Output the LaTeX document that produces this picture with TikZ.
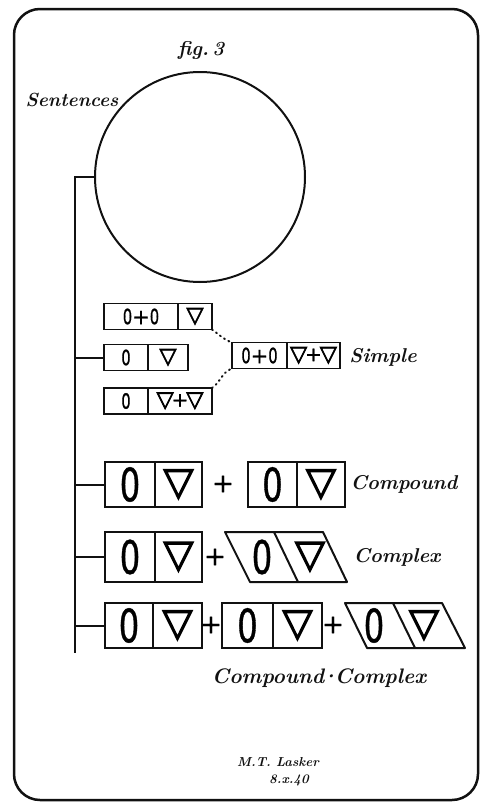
\documentclass[tikz,border=0pt]{standalone}
\usepackage{fontspec}
\usepackage{tikz}
\usetikzlibrary{positioning}
\newfontfamily\symfont{DejaVu Sans}[FakeBold=1]
\newfontfamily\trifont{DejaVu Sans}[FakeBold=3]
\definecolor{ink}{HTML}{111111}
\newcommand{\nought}{\scalebox{0.7}[1]{0}}
\tikzset{
 cell/.style={draw=ink,line width=1.8pt,inner sep=0pt,outer sep=0pt,minimum height=26pt,font=\symfont\fontsize{21}{21}\selectfont},
 smalltri/.style={font=\trifont\fontsize{22}{22}\selectfont},
 bigcell/.style={draw=ink,line width=2pt,inner sep=0pt,outer sep=0pt,minimum height=45pt,font=\symfont\fontsize{46}{46}\selectfont},
 bigo/.style={font=\symfont\fontsize{46}{46}\selectfont},
 tri/.style={font=\trifont\fontsize{39}{39}\selectfont},
 plus/.style={font=\symfont\fontsize{26}{26}\selectfont},
 hand/.style={font=\bfseries\itshape\fontsize{20}{20}\selectfont,text=ink},
 slant/.style={draw=ink,line width=2pt,line join=round},
 link/.style={ink,line width=2pt,line cap=round,dash pattern=on 1pt off 4pt},
}
\begin{document}
\begin{tikzpicture}[x=1pt,y=-1pt]
\useasboundingbox (0,0) rectangle (480,803);
% frame and heading
\draw[ink,line width=2.5pt,rounded corners=26pt] (14,9) rectangle (478,800);
\node[hand] (fig) at (201,50) {fig.\,3};
\node[hand,font=\bfseries\itshape\fontsize{19}{19}\selectfont] (sent) at (72,100) {Sentences};
\node[draw=ink,line width=2pt,circle,minimum size=210pt,inner sep=0pt] (whole) at (200,177) {};
\coordinate (foot) at (75,653);
\draw[ink,line width=2pt] (whole.west) -| (foot);
% simple
\node[cell,minimum width=74pt,anchor=west] (s1o) at (104,316.5) {\nought+\nought};
\node[cell,smalltri,minimum width=34pt,right=0pt of s1o] (s1v) {▽};
\node[cell,minimum width=44pt,anchor=west] (s2o) at (104,357.5) {\nought};
\node[cell,smalltri,minimum width=40pt,right=0pt of s2o] (s2v) {▽};
\node[cell,minimum width=44pt,anchor=west] (s3o) at (104,401) {\nought};
\node[cell,smalltri,minimum width=64pt,right=0pt of s3o] (s3v) {▽\kern-2pt{\symfont\fontsize{20}{20}\selectfont+}\kern-2pt▽};
\node[cell,minimum width=55pt,anchor=west] (sro) at (232,355.5) {\nought+\nought};
\node[cell,smalltri,minimum width=53pt,right=0pt of sro] (srv) {▽\kern-2pt{\symfont\fontsize{20}{20}\selectfont+}\kern-2pt▽};
\node[hand] (sname) at (383,357) {Simple};
\draw[ink,line width=2pt] (s2o.west) -- (s2o.west -| foot);
\draw[link] (s1v.south east) to[out=-35,in=160] (sro.north west);
\draw[link] (s3v.north east) to[out=35,in=-160] (sro.south west);
% compound
\node[bigcell,minimum width=50pt,anchor=west] (co1) at (105,484.5) {\nought};
\node[bigcell,tri,minimum width=47pt,right=0pt of co1] (cv1) {▽};
\node[plus] (cp) at (223,484) {+};
\node[bigcell,minimum width=49pt,anchor=west] (co2) at (248,484.5) {\nought};
\node[bigcell,tri,minimum width=48pt,right=0pt of co2] (cv2) {▽};
\node[hand] (cname) at (404,484) {Compound};
\draw[ink,line width=2pt] (co1.west) -- (co1.west -| foot);
% complex
\node[bigcell,minimum width=50pt,minimum height=50pt,anchor=west] (xo1) at (105,557) {\nought};
\node[bigcell,tri,minimum width=47pt,minimum height=50pt,right=0pt of xo1] (xv1) {▽};
\node[plus] (xp) at (215,557) {+};
\draw[slant] (225,532) -- (323,532) -- (347,582) -- (250,582) -- cycle;
\draw[slant] (274,532) -- (298,582);
\node[bigo] (xo2) at (262,557) {\nought};
\node[tri] (xv2) at (310,557) {▽};
\node[hand] (xname) at (397,557) {Complex};
\draw[ink,line width=2pt] (xo1.west) -- (xo1.west -| foot);
% compound-complex
\node[bigcell,minimum width=48pt,anchor=west] (ko1) at (105,625.5) {\nought};
\node[bigcell,tri,minimum width=49pt,right=0pt of ko1] (kv1) {▽};
\node[plus] (kp1) at (211,625) {+};
\node[bigcell,minimum width=51pt,anchor=west] (ko2) at (222,625.5) {\nought};
\node[bigcell,tri,minimum width=49pt,right=0pt of ko2] (kv2) {▽};
\node[plus] (kp2) at (333,625) {+};
\draw[slant] (345,603) -- (442,603) -- (465,648) -- (367,648) -- cycle;
\draw[slant] (393,603) -- (415,648);
\node[bigo] (ko3) at (374,625.5) {\nought};
\node[tri] (kv3) at (424,625.5) {▽};
\node[hand,font=\bfseries\itshape\fontsize{21}{21}\selectfont] (kname) at (319,678) {Compound\kern-4pt·\kern-4pt Complex};
\draw[ink,line width=2pt] (ko1.west) -- (ko1.west -| foot);
% signature
\node[hand,font=\bfseries\itshape\fontsize{13}{13}\selectfont] (sig) at (278,762) {M.T. Lasker};
\node[hand,font=\bfseries\itshape\fontsize{13}{13}\selectfont] (date) at (289,780) {8.x.40};
\end{tikzpicture}
\end{document}
